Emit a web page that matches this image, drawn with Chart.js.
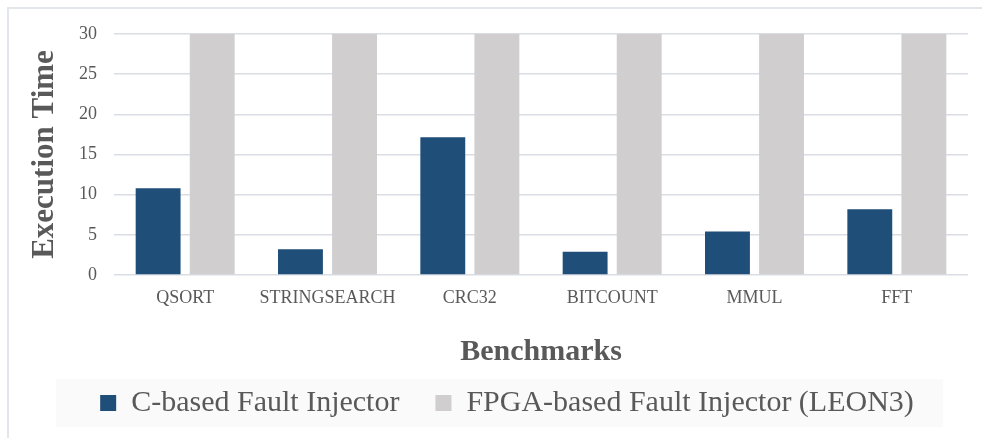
<!DOCTYPE html>
<html>
<head>
<meta charset="utf-8">
<script src="https://cdn.jsdelivr.net/npm/chart.js@4"></script>
<style>
  html, body { margin: 0; padding: 0; background: #ffffff; }
  #wrap { position: relative; width: 982px; height: 438px; overflow: hidden; }
  #frame { position: absolute; left: 7px; top: 7px; width: 990px; height: 450px;
           border-left: 2px solid #E3E7EC; border-top: 2px solid #E3E7EC; box-sizing: border-box; }
  canvas { position: absolute; left: 0; top: 0; }
</style>
</head>
<body>
<div id="wrap">
  <div id="frame"></div>
  <canvas id="c" width="982" height="438"></canvas>
</div>
<script>
const categories = ['QSORT', 'STRINGSEARCH', 'CRC32', 'BITCOUNT', 'MMUL', 'FFT'];
const cBased = [10.8, 3.2, 17.15, 2.9, 5.4, 8.2];
const fpgaBased = [30, 30, 30, 30, 30, 30];
const seriesNames = ['C-based Fault Injector', 'FPGA-based Fault Injector (LEON3)'];
const yTicks = [0, 5, 10, 15, 20, 25, 30];

const FONT = '"Liberation Serif", "Times New Roman", serif';
const TEXT = '#595959';

const legendBg = {
  id: 'legendBg',
  afterLayout(chart) {
    if (chart.legend) { chart.legend.left += 23; chart.legend.right += 23; }
  },
  beforeDraw(chart) {
    const hb = chart.legend && chart.legend.legendHitBoxes;
    if (!hb || !hb.length) return;
    const first = hb[0], last = hb[hb.length - 1];
    const ctx = chart.ctx;
    ctx.save();
    ctx.fillStyle = '#FAFAFA';
    const l = first.left - 44, r = last.left + last.width + 29;
    ctx.fillRect(l, first.top - 9, r - l, first.height + 18);
    ctx.restore();
  }
};

new Chart(document.getElementById('c'), {
  type: 'bar',
  data: {
    labels: categories,
    datasets: [
      { label: seriesNames[0], data: cBased, backgroundColor: '#1F4E79',
        categoryPercentage: 0.76, barPercentage: 0.83 },
      { label: seriesNames[1], data: fpgaBased, backgroundColor: '#D0CECE',
        categoryPercentage: 0.76, barPercentage: 0.83 }
    ]
  },
  options: {
    responsive: false,
    animation: false,
    devicePixelRatio: 1,
    layout: { padding: { left: 0, right: 14, top: 34, bottom: 10 } },
    plugins: {
      tooltip: { enabled: false },
      legend: {
        position: 'bottom',
        labels: {
          font: { family: FONT, size: 30 },
          color: TEXT,
          boxWidth: 16,
          boxHeight: 16,
          padding: 36
        }
      }
    },
    scales: {
      x: {
        grid: { display: false, drawTicks: false },
        border: { display: false },
        ticks: { font: { family: FONT, size: 18 }, color: TEXT, padding: 12, maxRotation: 0, autoSkip: false },
        title: { display: true, text: 'Benchmarks', color: TEXT,
                 font: { family: FONT, size: 30, weight: 'bold' },
                 padding: { top: 0, bottom: -18 } },
        afterFit(scale) { scale.height = 77; }
      },
      y: {
        min: 0, max: 30,
        afterBuildTicks(scale) { scale.ticks = yTicks.map(v => ({ value: v })); },
        grid: { color: '#D9DEE5', lineWidth: 1.5, drawTicks: false },
        border: { display: false },
        ticks: { font: { family: FONT, size: 18 }, color: TEXT, padding: 17 },
        title: { display: true, text: 'Execution Time', color: TEXT,
                 font: { family: FONT, size: 31, weight: 'bold' },
                 padding: { top: 26, bottom: 0 } },
        afterFit(scale) { scale.width = 114; }
      }
    }
  },
  plugins: [legendBg]
});
</script>
</body>
</html>
